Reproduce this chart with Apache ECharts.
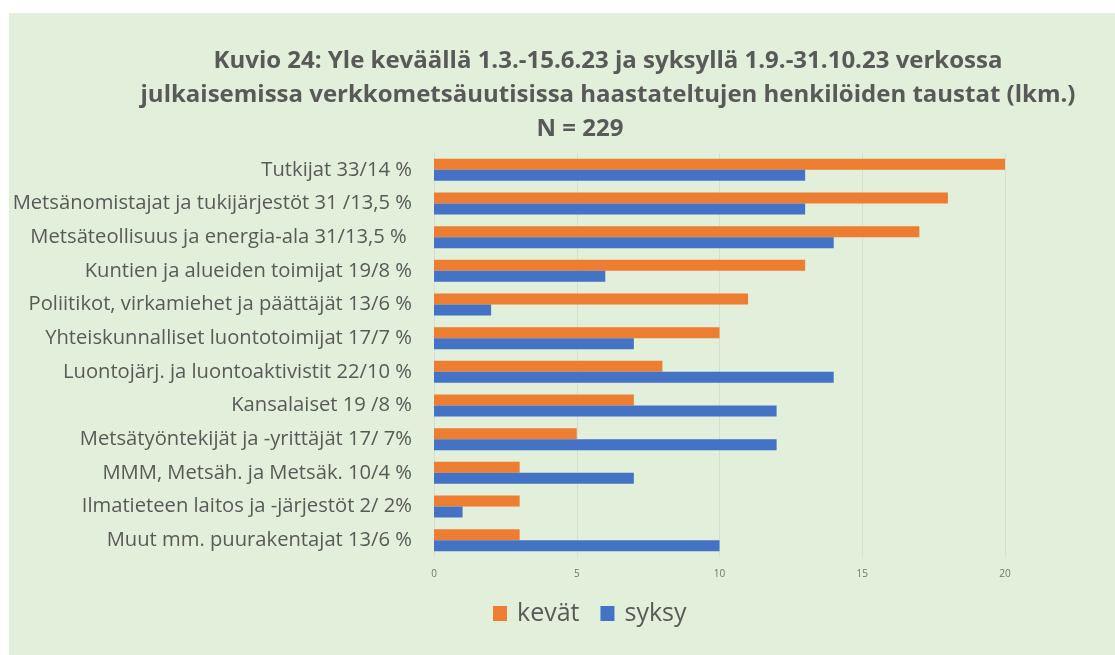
<!DOCTYPE html>
<html>
<head>
<meta charset="utf-8">
<script src="https://cdn.jsdelivr.net/npm/echarts@6/dist/echarts.min.js"></script>
<style>
  html, body { margin: 0; padding: 0; background: #ffffff; }
  #chart {
    position: absolute;
    left: 9px;
    top: 13px;
    width: 1106px;
    height: 642px;
    background: #e2efda;
  }
</style>
</head>
<body>
<div id="chart"></div>
<script>
// luokat ylhäältä alas
const categories = [
  'Tutkijat 33/14 %',
  'Metsänomistajat ja tukijärjestöt 31 /13,5 %',
  'Metsäteollisuus ja energia-ala 31/13,5 % ',
  'Kuntien ja alueiden toimijat 19/8 %',
  'Poliitikot, virkamiehet ja päättäjät 13/6 %',
  'Yhteiskunnalliset luontotoimijat 17/7 %',
  'Luontojärj. ja luontoaktivistit 22/10 %',
  'Kansalaiset 19 /8 %',
  'Metsätyöntekijät ja -yrittäjät 17/ 7%',
  'MMM, Metsäh. ja Metsäk. 10/4 %',
  'Ilmatieteen laitos ja -järjestöt 2/ 2%',
  'Muut mm. puurakentajat 13/6 %'
]
const kevat = [20, 18, 17, 13, 11, 10, 8, 7, 5, 3, 3, 3]
const syksy = [13, 13, 14, 6, 2, 7, 14, 12, 12, 7, 1, 10]
const xTicks = [0, 5, 10, 15, 20]

const chart = echarts.init(document.getElementById('chart'))
const titleStyle = {
  fontFamily: 'Open Sans',
  fontWeight: 'bold',
  fontSize: 24,
  color: '#595959'
}
const option = {
  animation: false,
  title: [
    { text: 'Kuvio 24: Yle keväällä 1.3.-15.6.23 ja syksyllä 1.9.-31.10.23 verkossa', left: 594, top: 31, textAlign: 'center', textStyle: titleStyle },
    { text: 'julkaisemissa verkkometsäuutisissa haastateltujen henkilöiden taustat (lkm.)', left: 594, top: 65, textAlign: 'center', textStyle: titleStyle },
    { text: 'N = 229', left: 566, top: 99, textAlign: 'center', textStyle: titleStyle }
  ],
  legend: {
    data: ['kevät', 'syksy'],
    left: 479,
    top: 583,
    itemWidth: 14,
    itemHeight: 15,
    itemGap: 21,
    icon: 'rect',
    textStyle: { fontFamily: 'Open Sans', fontSize: 25, color: '#595959', padding: [0, 0, 0, 5] }
  },
  grid: { left: 425, right: 110, top: 140, bottom: 98, containLabel: false },
  xAxis: {
    type: 'value',
    min: xTicks[0],
    max: xTicks[xTicks.length - 1],
    interval: 5,
    axisLine: { show: false },
    axisTick: { show: false },
    splitLine: { lineStyle: { color: '#d3dfd0', width: 1 } },
    axisLabel: { fontFamily: 'Open Sans', fontSize: 10, color: '#737373', margin: 12 }
  },
  yAxis: {
    type: 'category',
    data: categories,
    inverse: true,
    axisLine: { show: false },
    axisTick: { show: false },
    axisLabel: { fontFamily: 'Open Sans', fontSize: 20.2, color: '#595959', margin: 22 }
  },
  series: [
    {
      name: 'kevät',
      type: 'bar',
      data: kevat,
      barWidth: 11,
      barGap: '0%',
      itemStyle: { color: '#ed7d31' }
    },
    {
      name: 'syksy',
      type: 'bar',
      data: syksy,
      barWidth: 11,
      barGap: '0%',
      itemStyle: { color: '#4472c4' }
    }
  ]
}
chart.setOption(option)
</script>
</body>
</html>
